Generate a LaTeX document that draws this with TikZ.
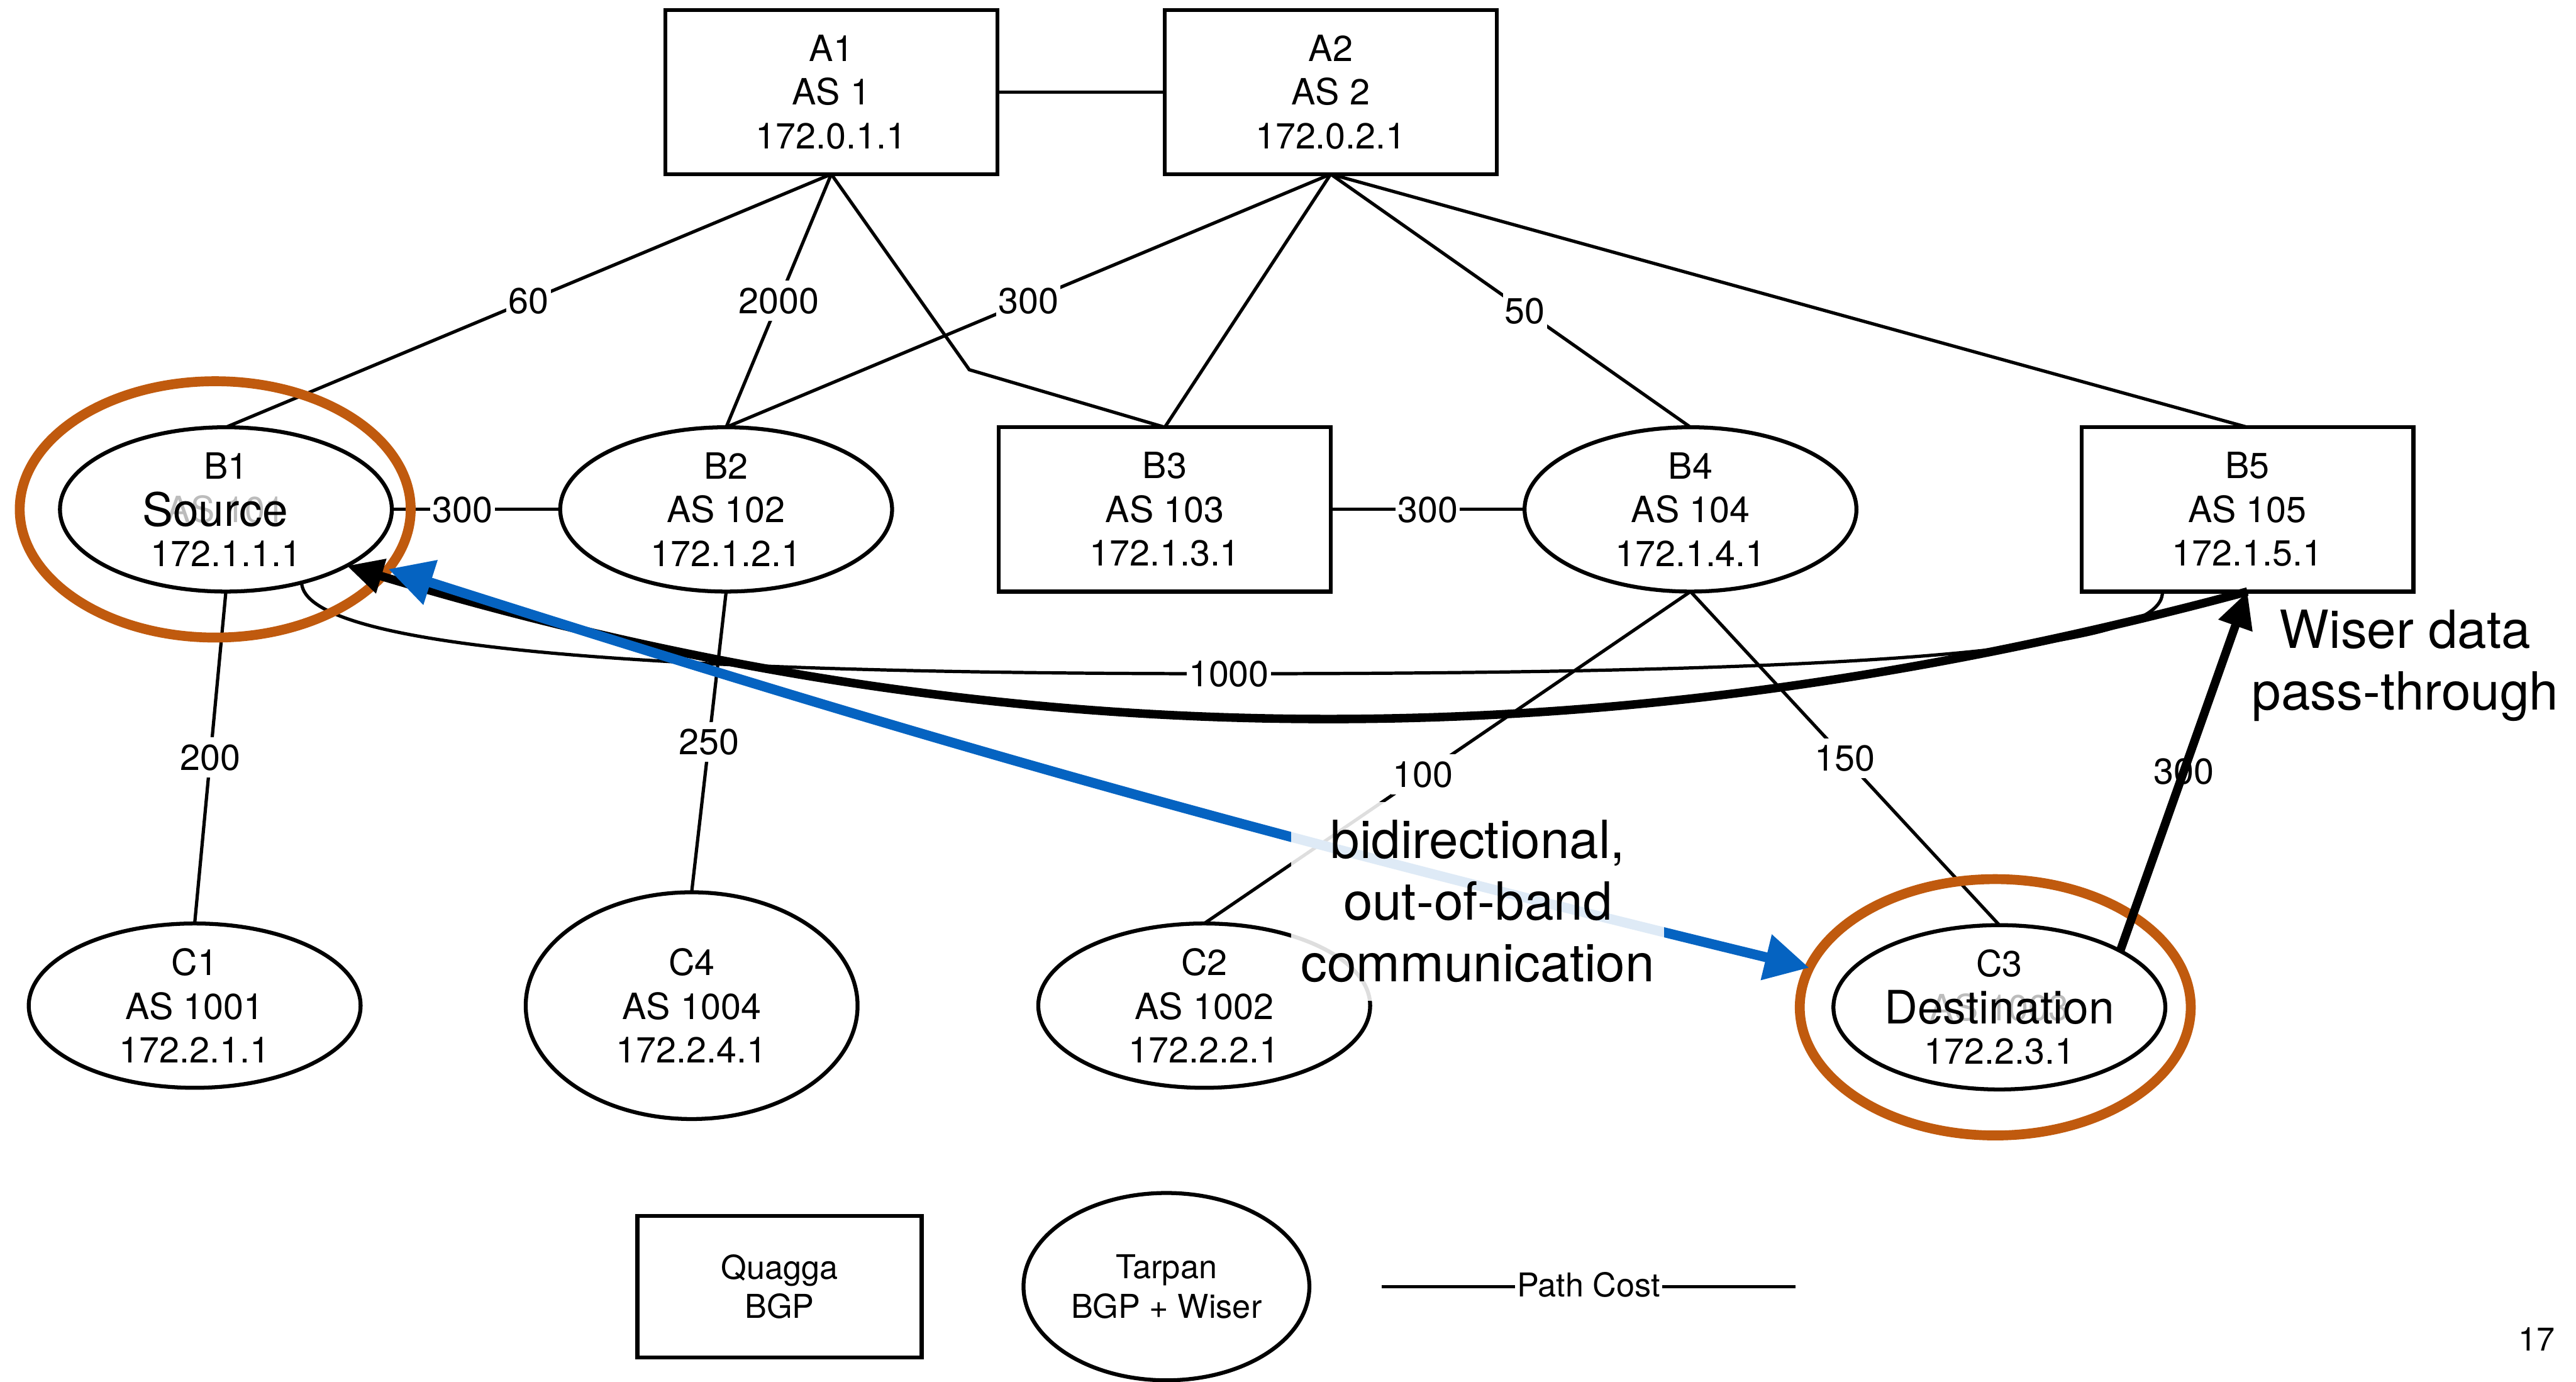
\documentclass[tikz,border=0pt]{standalone}
\usepackage{fontspec}
\setmainfont{TeX Gyre Heros}
\usetikzlibrary{shapes.geometric,arrows.meta}

\definecolor{ringorange}{RGB}{192,90,14}
\definecolor{linkblue}{RGB}{5,99,193}
\definecolor{asgray}{RGB}{188,188,188}

\newcommand{\nodefont}{\fontsize{11pt}{13.3pt}\selectfont}
\newcommand{\calloutfont}{\fontsize{16pt}{18.7pt}\selectfont}
\newcommand{\tagfont}{\fontsize{14pt}{16pt}\selectfont}
\newcommand{\legendfont}{\fontsize{10pt}{12pt}\selectfont}

\begin{document}
\begin{tikzpicture}[x=0.5pt,y=-0.5pt,
  router/.style={draw, line width=1.2pt, fill=white, align=center,
    font=\nodefont, inner sep=0pt, outer sep=0pt},
  quagga/.style={router, rectangle, minimum width=101pt, minimum height=50pt},
  tarpan/.style={router, ellipse, minimum width=101pt, minimum height=50pt},
  link/.style={line width=1pt},
  cost/.style={fill=white, font=\nodefont, inner xsep=0.6pt, inner ysep=0pt,
    text height=10pt, text depth=2.2pt},
  ring/.style={ellipse, draw=ringorange, line width=3pt, minimum width=119pt,
    minimum height=78pt, inner sep=0pt, outer sep=0pt},
  flow/.style={line width=2.6pt, -{Triangle[length=11pt,width=10.3pt]}},
  oob/.style={draw=linkblue, line width=3pt,
    {Triangle[length=13.5pt,width=13.5pt]}-{Triangle[length=13.5pt,width=13.5pt]}},
  callout/.style={align=center, font=\calloutfont, inner sep=0pt},
]
\useasboundingbox (0,0) rectangle (1568,840.7);

% routers
\node[quagga] (A1) at (506,56) {A1\\AS 1\\172.0.1.1};
\node[quagga] (A2) at (810,56) {A2\\AS 2\\172.0.2.1};
\node[tarpan] (B1) at (137.5,310) {B1\\\textcolor{asgray}{AS 101}\\172.1.1.1};
\node[tarpan] (B2) at (442,310) {B2\\AS 102\\172.1.2.1};
\node[quagga] (B3) at (709,310) {B3\\AS 103\\172.1.3.1};
\node[tarpan] (B4) at (1029,310) {B4\\AS 104\\172.1.4.1};
\node[quagga] (B5) at (1368,310) {B5\\AS 105\\172.1.5.1};
\node[tarpan] (C1) at (118.5,612) {C1\\AS 1001\\172.2.1.1};
\node[tarpan, minimum height=69pt] (C4) at (421,612) {C4\\AS 1004\\172.2.4.1};
\node[tarpan] (C2) at (733,612) {C2\\AS 1002\\172.2.2.1};
\node[tarpan] (C3) at (1217,613) {C3\\\textcolor{asgray}{AS 1003}\\172.2.3.1};

% peering links with path costs
\draw[link] (A1) -- (A2);
\draw[link] (A1.south) -- node[cost]{60} (B1.north);
\draw[link] (A1.south) -- node[cost]{2000} (B2.north);
\coordinate (a1b3bend) at (590,225);
\draw[link] (A1.south) -- (a1b3bend) -- (B3.north);
\draw[link] (A2.south) -- node[cost]{300} (B2.north);
\draw[link] (A2.south) -- (B3.north);
\draw[link] (A2.south) -- node[cost,pos=0.54]{50} (B4.north);
\draw[link] (A2.south) -- (B5.north);
\draw[link] (B1.east) -- node[cost,pos=0.42]{300} (B2.west);
\draw[link] (B3.east) -- node[cost]{300} (B4.west);
\draw[link] (B1.south) -- node[cost]{200} (C1.north);
\draw[link] (B2.south) -- node[cost]{250} (C4.north);
\draw[link] (B4.south) -- node[cost,pos=0.55]{100} (C2.north);
\draw[link] (B4.south) -- node[cost]{150} (C3.north);
\draw[link] (B1.-44) .. controls (185,395) and (400,410) .. (748,410)
  node[cost]{1000} .. controls (1150,410) and (1318,395) .. (B5.-136);
\draw[link] (C3.25) -- node[cost]{300} (B5.south);

% source and destination markers
\node[ring] (srcring) at (131,310) {};
\node[ring] (dstring) at (1214.5,613) {};
\node[font=\tagfont, inner sep=0pt] (srctag) at (131,310) {Source};
\node[font=\tagfont, inner sep=0pt] (dsttag) at (C3.center) {Destination};

% Wiser data path
\draw[flow] (C3.25) -- (B5.south);
\draw[flow] (B5.south) .. controls (978,465) and (612,465) .. (B1.-25);

% out-of-band channel
\draw[oob] (srcring.-19) to[bend right=2] (dstring.168);

\node[callout, fill=white, fill opacity=0.87, text opacity=1,
  minimum width=113.5pt, minimum height=60.5pt] (oobnote) at (899.5,548.5)
  {bidirectional,\\out-of-band\\communication};
\node[callout] (wisernote) at (1464,405) {Wiser data\\pass-through};

% legend
\node[quagga, font=\legendfont, minimum width=86.5pt, minimum height=43pt]
  (legquagga) at (474.5,783) {Quagga\\BGP};
\node[tarpan, font=\legendfont, minimum width=87pt, minimum height=57pt]
  (legtarpan) at (710,783) {Tarpan\\BGP + Wiser};
\coordinate (pcstart) at (841,783);
\coordinate (pcend) at (1093,783);
\draw[link] (pcstart) -- node[cost, font=\legendfont, text height=8pt,
  text depth=2pt]{Path Cost} (pcend);

\node[font=\legendfont, inner sep=0pt] (pageno) at (1544,815) {17};
\end{tikzpicture}
\end{document}
